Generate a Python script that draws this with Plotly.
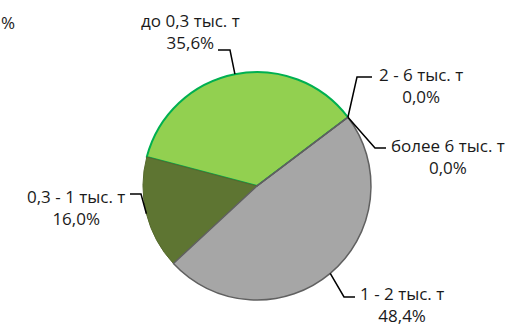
import math
import plotly.graph_objects as go

# ---- data ----
categories = ["до 0,3 тыс. т", "0,3 - 1 тыс. т", "1 - 2 тыс. т", "2 - 6 тыс. т", "более 6 тыс. т"]
values = [35.6, 16.0, 48.4, 0.0, 0.0]
pct_labels = ["35,6%", "16,0%", "48,4%", "0,0%", "0,0%"]

# ---- style / layout ----
W, H = 510, 328
colors = ["#92D050", "#5E7532", "#A6A6A6", "#A6A6A6", "#A6A6A6"]
line_colors = ["#00B050", "#55692C", "#606060", "#606060", "#606060"]
line_widths = [2, 1, 1.5, 1.5, 1.5]
CX, CY, R = 257, 186, 114          # pie centre / radius in pixels
START = 52.9                        # boundary where first slice begins (deg clockwise from 12)
total = sum(values)
ROTATION = START - 360 * values[0] / total

# label block centres (px) and leader knee / end points (px)
label_pos = [(190, 32), (76, 207), (402, 304), (421, 85), (448, 156)]
knees = [[(218, 50), (230, 50)],
         [(130, 194), (141, 194)],
         [(355, 297), (344, 297)],
         [(372, 77), (357, 77)],
         [(386, 148), (375, 148)]]

fig = go.Figure(go.Pie(
    labels=categories, values=values, sort=False,
    direction="counterclockwise", rotation=ROTATION,
    marker=dict(colors=colors, line=dict(color=line_colors, width=line_widths)),
    textinfo="none", hoverinfo="label+percent", showlegend=False,
    domain=dict(x=[(CX - R) / W, (CX + R) / W], y=[1 - (CY + R) / H, 1 - (CY - R) / H]),
))

def px(x, y):
    return x / W, 1 - y / H

FONT = dict(family="Open Sans", size=17, color="#1a1a1a")
ang = START
shapes, annotations = [], []
for i, v in enumerate(values):
    span = v / total * 360
    mid = ang - span / 2
    ang -= span
    a = math.radians(mid)
    ex, ey = CX + R * math.sin(a), CY - R * math.cos(a)
    pts = knees[i] + [(ex, ey)]
    path = "M " + " L ".join(f"{px(x, y)[0]},{px(x, y)[1]}" for x, y in pts)
    shapes.append(dict(type="path", path=path, xref="paper", yref="paper",
                       line=dict(color="black", width=1.5)))
    lx, ly = px(*label_pos[i])
    annotations.append(dict(x=lx, y=ly, xref="paper", yref="paper",
                            text=f"{categories[i]}<br>{pct_labels[i]}",
                            showarrow=False, align="center", borderpad=0,
                            xanchor="center", yanchor="middle", font=FONT))

# partially visible text at the top-left corner
annotations.append(dict(x=0, y=px(0, 22)[1], xref="paper", yref="paper", text="%",
                        showarrow=False, xanchor="left", yanchor="middle",
                        borderpad=0, font=FONT))

fig.update_layout(width=W, height=H, margin=dict(l=0, r=0, t=0, b=0),
                  paper_bgcolor="white", plot_bgcolor="white",
                  shapes=shapes, annotations=annotations)
fig.write_html("out.html", config={"displayModeBar": False},
               post_script="document.body.style.margin='0';")
